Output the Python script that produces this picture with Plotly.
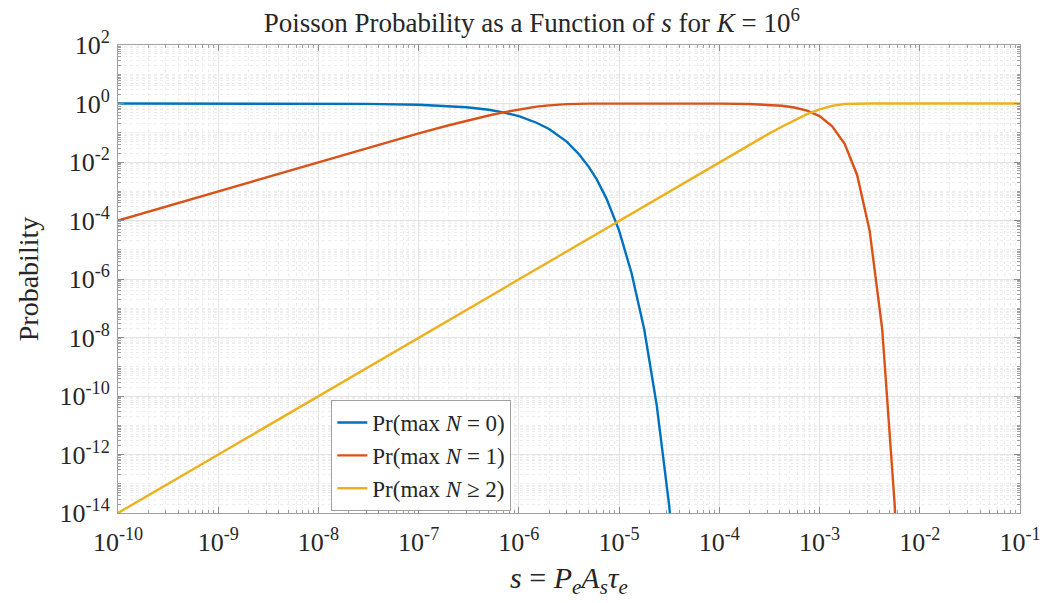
import plotly.graph_objects as go

# s = Pe*As*tau_e sample points and the probabilities read for each curve
s_n0 = [1e-10, 1e-9, 1e-8, 3e-8, 1e-7, 2e-7, 3e-7, 5e-7, 7e-7, 1e-6, 1.5e-6, 2e-6,
        3e-6, 4e-6, 5e-6, 6e-6, 7.5e-6, 1e-5, 1.33e-5, 1.78e-5, 2.37e-5, 3.16e-5, 4.2e-5]
p_n0 = [1.0, 1.0, 0.99, 0.97, 0.905, 0.82, 0.74, 0.61, 0.50, 0.37, 0.22, 0.135,
        0.05, 0.018, 6.7e-3, 2.5e-3, 5.5e-4, 4.5e-5, 1.6e-6, 1.9e-8, 5e-11, 1.8e-14, 5.7e-19]

s_n1 = [1e-10, 1e-9, 1e-8, 3e-8, 1e-7, 2e-7, 3e-7, 5e-7, 7e-7, 1e-6, 1.5e-6, 2e-6,
        3e-6, 5e-6, 1e-5, 3e-5, 1e-4, 2e-4, 3e-4, 4.2e-4, 5.6e-4, 7.5e-4, 1e-3,
        1.33e-3, 1.78e-3, 2.37e-3, 3.16e-3, 4.22e-3, 5.62e-3, 7.5e-3]
p_n1 = [1e-4, 1e-3, 0.01, 0.029, 0.095, 0.18, 0.26, 0.39, 0.50, 0.63, 0.78, 0.865,
        0.95, 0.993, 1.0, 1.0, 0.99, 0.96, 0.914, 0.84, 0.73, 0.57, 0.37,
        0.17, 0.042, 3.6e-3, 4.5e-5, 1.9e-8, 1.9e-14, 4e-25]

s_n2 = [1e-10, 1e-9, 1e-8, 1e-7, 1e-6, 1e-5, 1e-4, 2e-4, 3e-4, 4.2e-4, 5.6e-4, 7.5e-4,
        1e-3, 1.33e-3, 1.78e-3, 2.37e-3, 3.16e-3, 1e-2, 1e-1]
p_n2 = [1e-14, 1e-12, 1e-10, 1e-8, 1e-6, 1e-4, 0.01, 0.039, 0.086, 0.16, 0.27, 0.43,
        0.63, 0.83, 0.958, 0.996, 1.0, 1.0, 1.0]

series_names = ["Pr(max <i>N</i> = 0)", "Pr(max <i>N</i> = 1)", "Pr(max <i>N</i> ≥ 2)"]
series_colors = ["#0072BD", "#D95319", "#EDB120"]

# decade exponents used for the tick labels
x_exps = [-10, -9, -8, -7, -6, -5, -4, -3, -2, -1]
y_exps = [-14, -12, -10, -8, -6, -4, -2, 0, 2]

FONT = "Times New Roman, Liberation Serif, serif"
TXT = "#262626"

fig = go.Figure()
for xs, ys, name, col in zip([s_n0, s_n1, s_n2], [p_n0, p_n1, p_n2], series_names, series_colors):
    fig.add_trace(go.Scatter(x=xs, y=ys, mode="lines", name=name,
                             line=dict(color=col, width=2.4)))

axis_common = dict(
    type="log",
    showline=True, linecolor="#a0a0a0", linewidth=1, mirror="ticks",
    ticks="inside", ticklen=6, tickcolor="#8c8c8c", tickwidth=1,
    showgrid=True, gridcolor="#e3e3e3", gridwidth=1,
    zeroline=False,
    tickfont=dict(family=FONT, size=26, color=TXT),
    minor=dict(ticks="inside", ticklen=3, tickcolor="#a0a0a0", dtick="D1",
               showgrid=True, gridcolor="#eeeeee", griddash="dot", gridwidth=1),
)

fig.update_xaxes(
    **axis_common,
    range=[-10, -1],
    tickvals=[10.0 ** e for e in x_exps],
    ticktext=[f"10<sup>{e}</sup>" for e in x_exps],
    ticklabelstandoff=6,
    title=dict(text="<i>s</i> = <i>P<sub>e</sub>A<sub>s</sub>τ<sub>e</sub></i>",
               font=dict(family=FONT, size=30, color=TXT), standoff=10),
)
fig.update_yaxes(
    **axis_common,
    range=[-14, 2],
    tickvals=[10.0 ** e for e in y_exps],
    ticktext=[f"10<sup>{e}</sup>" for e in y_exps],
    ticklabelstandoff=2,
    title=dict(text="Probability", font=dict(family=FONT, size=28, color=TXT),
               standoff=12),
)

fig.update_layout(
    width=1053, height=603,
    margin=dict(l=118, r=27, t=45, b=90),
    paper_bgcolor="white", plot_bgcolor="white",
    title=dict(text="Poisson Probability as a Function of <i>s</i> for <i>K</i> = 10<sup>6</sup>",
               x=0.505, xanchor="center", y=0.962, yanchor="middle",
               font=dict(family=FONT, size=27, color=TXT)),
    legend=dict(x=0.2365, y=0.2415, xanchor="left", yanchor="top",
                bgcolor="white", bordercolor="#a0a0a0", borderwidth=1,
                font=dict(family=FONT, size=23, color=TXT),
                itemwidth=30, tracegroupgap=0),
    showlegend=True,
)

fig.write_html("out.html")
